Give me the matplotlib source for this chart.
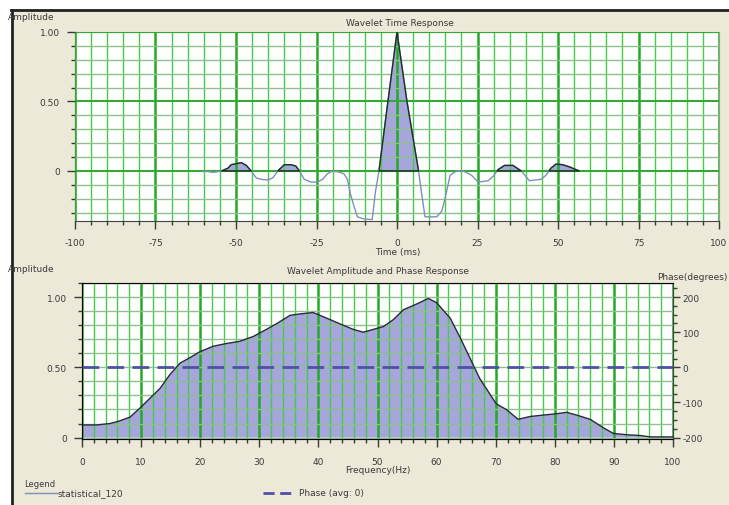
import matplotlib
matplotlib.use('Agg')
import matplotlib.pyplot as plt
import numpy as np
from matplotlib.patches import Rectangle
from matplotlib.lines import Line2D
from matplotlib.ticker import MultipleLocator

# wavelet time response
time_ms = [-60.2, -57.0, -54.5, -52.5, -51.5, -48.3, -46.8, -45.3, -43.7, -42.2,
           -40.1, -38.6, -37.0, -35.0, -32.9, -31.4, -30.3, -28.8, -26.7, -24.7,
           -23.1, -21.6, -20.1, -18.5, -16.5, -15.4, -14.4, -13.4, -12.3, -10.3,
           -7.7, -6.7, -5.6, -3.1, 0.0, 3.1, 6.7, 7.7, 8.7, 12.3,
           13.9, 14.9, 16.5, 18.5, 20.6, 23.1, 25.2, 28.3, 29.8, 31.4,
           33.4, 36.0, 38.6, 41.1, 44.8, 46.3, 47.8, 49.4, 51.4, 53.5, 56.6]
time_amp = [0.0, -0.01, 0.0, 0.02, 0.045, 0.06, 0.04, 0.0, -0.05, -0.06,
            -0.065, -0.05, 0.0, 0.045, 0.045, 0.035, 0.0, -0.06, -0.08, -0.08,
            -0.06, -0.02, 0.0, -0.005, -0.02, -0.06, -0.17, -0.25, -0.33, -0.345,
            -0.35, -0.15, 0.0, 0.45, 1.0, 0.5, 0.0, -0.17, -0.33, -0.33,
            -0.29, -0.2, -0.03, 0.0, 0.0, -0.03, -0.08, -0.07, -0.04, 0.01,
            0.04, 0.04, 0.0, -0.07, -0.06, -0.03, 0.02, 0.05, 0.045, 0.03, 0.0]

# amplitude spectrum
freq_hz = [0.1, 2.5, 4.7, 6.1, 8.1, 9.8, 11.5, 13.2, 14.9, 16.6,
           18.3, 19.9, 22.2, 24.5, 26.7, 29.0, 31.2, 32.9, 35.2, 36.9,
           39.1, 41.4, 43.6, 45.9, 47.6, 49.3, 51.0, 52.7, 54.4, 56.6,
           58.6, 60.0, 62.3, 64.0, 65.6, 67.3, 68.7, 70.1, 71.8, 73.8,
           75.8, 78.0, 80.3, 82.0, 83.7, 86.0, 88.2, 89.9, 92.2, 94.4, 96.1, 100.0]
freq_amp = [0.09, 0.09, 0.10, 0.115, 0.145, 0.21, 0.28, 0.35, 0.45, 0.53,
            0.57, 0.61, 0.65, 0.67, 0.685, 0.72, 0.77, 0.81, 0.87, 0.88,
            0.89, 0.85, 0.81, 0.77, 0.75, 0.77, 0.79, 0.84, 0.91, 0.95,
            0.99, 0.96, 0.85, 0.71, 0.57, 0.42, 0.33, 0.24, 0.20, 0.13,
            0.15, 0.16, 0.17, 0.18, 0.16, 0.13, 0.07, 0.03, 0.02, 0.015, 0.005, 0.005]

# phase (avg 0)
phase_freq = [0, 100]
phase_deg = [0, 0]

W, H = 729, 506
BG = '#ECE9D8'
FILL = '#A6A6DC'
TXT = '#3A3A3A'
FS = 6.5

plt.rcParams['font.family'] = ['DejaVu Sans']
plt.rcParams['axes.unicode_minus'] = False

fig = plt.figure(figsize=(W / 100, H / 100), dpi=100, facecolor=BG)


def px(x, y):
    return x / W, 1 - y / H


def style_grid(ax):
    ax.set_facecolor('white')
    ax.set_axisbelow(False)
    ax.grid(which='minor', axis='x', color='#44CC44', lw=1.0, zorder=2)
    ax.grid(which='major', axis='x', color='#22AA22', lw=1.8, zorder=2)
    ax.grid(which='minor', axis='y', color='#8CC08C', lw=1.0, zorder=2)
    ax.grid(which='major', axis='y', color='#33AA33', lw=1.5, zorder=2)
    ax.tick_params(which='both', labelsize=FS, colors=TXT, width=1)
    ax.tick_params(which='major', length=6)
    ax.tick_params(which='minor', length=3)
    for s in ['top', 'right']:
        ax.spines[s].set_color('#88AA88')
    for s in ['left', 'bottom']:
        ax.spines[s].set_color('#444444')


# ---- top: time response
l, t = px(75, 33)
r, b = px(719, 222)
ax1 = fig.add_axes([l, b, r - l, t - b])
style_grid(ax1)
ax1.set_xlim(-100, 100)
ax1.set_ylim(-0.36, 1.0)
ax1.xaxis.set_major_locator(MultipleLocator(25))
ax1.xaxis.set_minor_locator(MultipleLocator(5))
ax1.set_yticks([0, 0.5, 1.0], ['0', '0.50', '1.00'])
ax1.yaxis.set_minor_locator(MultipleLocator(0.1))
ax1.tick_params(axis='x', pad=6)
ax1.tick_params(axis='y', pad=5)

t_arr = np.array(time_ms)
a_arr = np.array(time_amp)
ax1.fill_between(t_arr, a_arr, 0, where=a_arr > 0, interpolate=True,
                 facecolor=FILL, edgecolor='none', zorder=1)
ax1.plot(t_arr, a_arr, color='#7F90B8', lw=1.0, zorder=3)
ax1.fill_between(t_arr, a_arr, 0, where=a_arr > 0, interpolate=True,
                 facecolor='none', edgecolor='#1E2E28', lw=1.0, zorder=4)

fig.text(*px(400, 24), 'Wavelet Time Response', fontsize=FS, color=TXT, ha='center', va='center')
fig.text(*px(398, 253), 'Time (ms)', fontsize=FS, color=TXT, ha='center', va='center')
fig.text(*px(8, 17), 'Amplitude', fontsize=FS, color=TXT, ha='left', va='center')

# ---- bottom: amplitude and phase
l, t = px(82, 284)
r, b = px(673, 440)
ax2 = fig.add_axes([l, b, r - l, t - b])
style_grid(ax2)
ax2.set_xlim(0, 100)
ax2.set_ylim(-0.01, 1.1)
ax2.xaxis.set_major_locator(MultipleLocator(10))
ax2.xaxis.set_minor_locator(MultipleLocator(2))
ax2.set_yticks([0, 0.5, 1.0], ['0', '0.50', '1.00'])
ax2.yaxis.set_minor_locator(MultipleLocator(0.1))
ax2.grid(which='major', axis='y', color='#8CC08C', lw=1.0, zorder=2)
ax2.tick_params(axis='x', pad=7)
ax2.tick_params(axis='y', pad=5)

ax2.fill_between(freq_hz, freq_amp, 0, facecolor=FILL, edgecolor='none', zorder=1)
ax2.plot(freq_hz, freq_amp, color='#2A2A3A', lw=1.0, zorder=3)

ax3 = ax2.twinx()
ax3.set_ylim(-204, 240)
ax3.set_yticks([-200, -100, 0, 100, 200])
ax3.yaxis.set_minor_locator(MultipleLocator(25))
ax3.tick_params(which='both', labelsize=FS, colors=TXT, width=1, pad=2)
ax3.tick_params(which='major', length=5)
ax3.tick_params(which='minor', length=3)
ax3.spines['right'].set_color('#444444')
ax3.plot(phase_freq, phase_deg, color='#5050A8', lw=2.0, dashes=(6, 3), zorder=4)

fig.text(*px(378, 272), 'Wavelet Amplitude and Phase Response', fontsize=FS, color=TXT,
         ha='center', va='center')
fig.text(*px(378, 471), 'Frequency(Hz)', fontsize=FS, color=TXT, ha='center', va='center')
fig.text(*px(8, 270), 'Amplitude', fontsize=FS, color=TXT, ha='left', va='center')
fig.text(*px(727, 278), 'Phase(degrees)', fontsize=FS, color=TXT, ha='right', va='center')

# ---- legend
fig.text(*px(24, 485), 'Legend', fontsize=FS - 0.5, color=TXT, ha='left', va='center')
fig.add_artist(Line2D([25 / W, 57 / W], [1 - 494 / H] * 2, color='#7F90B8', lw=1.0))
fig.text(*px(58, 494), 'statistical_120', fontsize=FS, color=TXT, ha='left', va='center')
fig.add_artist(Line2D([263 / W, 296 / W], [1 - 494 / H] * 2, color='#5050A8', lw=2.0,
                      dashes=(4, 2)))
fig.text(*px(299, 494), 'Phase (avg: 0)', fontsize=FS, color=TXT, ha='left', va='center')

# ---- window frame
fig.add_artist(Rectangle((0, 1 - 10 / H), 1, 10 / H, transform=fig.transFigure,
                         facecolor='white', edgecolor='none'))
fig.add_artist(Rectangle((0, 0), 11 / W, 1, transform=fig.transFigure,
                         facecolor='white', edgecolor='none'))
fig.add_artist(Line2D([11 / W, 1], [1 - 11 / H] * 2, color='#222222', lw=2.0))
fig.add_artist(Line2D([12 / W] * 2, [0, 1 - 11 / H], color='#222222', lw=2.0))

fig.savefig('out.png', dpi=100, facecolor=BG)
